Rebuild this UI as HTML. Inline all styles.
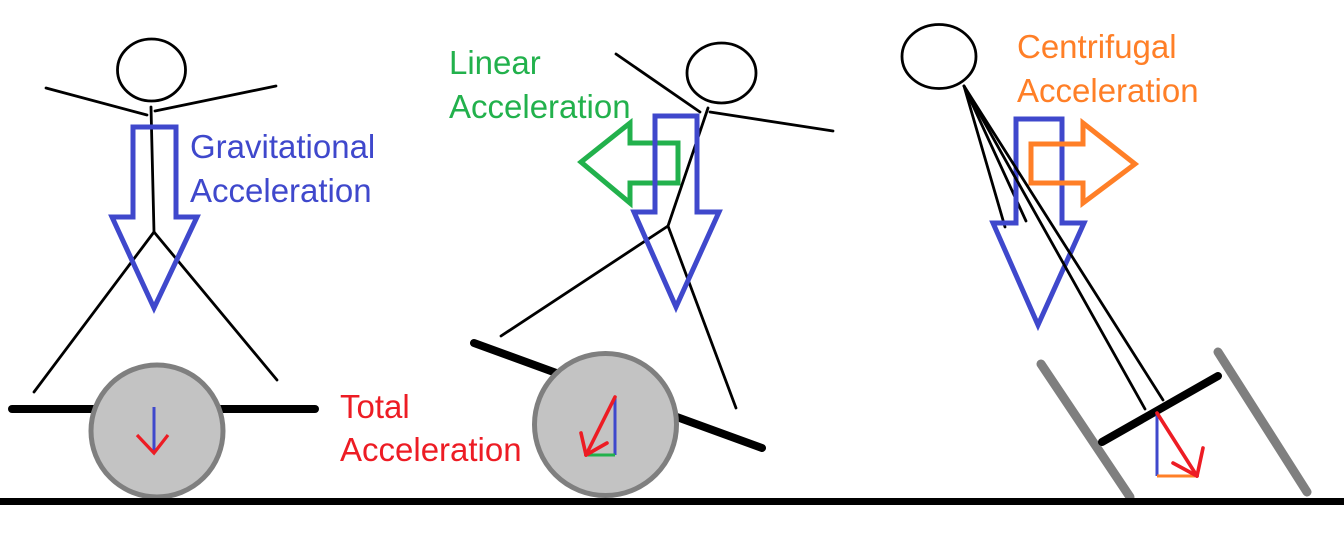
<!DOCTYPE html>
<html>
<head>
<meta charset="utf-8">
<style>
  html,body{margin:0;padding:0;background:#fff;}
  body{width:1344px;height:543px;overflow:hidden;}
  svg{display:block;}
  text{font-family:"Liberation Sans",sans-serif;font-size:33px;}
</style>
</head>
<body>
<svg width="1344" height="543" viewBox="0 0 1344 543" xmlns="http://www.w3.org/2000/svg">
  <rect x="0" y="0" width="1344" height="543" fill="#fff"/>

  <!-- ===== Figure 1 ===== -->
  <g stroke="#000" stroke-width="2.8" fill="none" stroke-linecap="round">
    <ellipse cx="151.5" cy="70" rx="34" ry="31"/>
    <line x1="46" y1="88" x2="147" y2="115"/>
    <line x1="155" y1="111" x2="276" y2="86"/>
    <line x1="151" y1="107" x2="154" y2="232"/>
    <line x1="154" y1="232" x2="34" y2="392"/>
    <line x1="154" y1="232" x2="277" y2="380"/>
  </g>
  <polygon points="133,127 176,127 176,217 197,217 154,308 112,217 133,217" fill="none" stroke="#3F48CC" stroke-width="5" stroke-linejoin="miter"/>
  <line x1="12" y1="409" x2="315" y2="409" stroke="#000" stroke-width="8" stroke-linecap="round"/>
  <circle cx="157" cy="431" r="66" fill="#C3C3C3" stroke="#7F7F7F" stroke-width="5"/>
  <line x1="154" y1="407" x2="154" y2="452" stroke="#3F48CC" stroke-width="3"/>
  <polyline points="137,435 154,453 168,435" fill="none" stroke="#ED1C24" stroke-width="3.2"/>

  <text x="190" y="158" fill="#3F48CC">Gravitational</text>
  <text x="190" y="202" fill="#3F48CC">Acceleration</text>
  <text x="340" y="418" fill="#ED1C24">Total</text>
  <text x="340" y="461" fill="#ED1C24">Acceleration</text>

  <!-- ===== Figure 2 ===== -->
  <g stroke="#000" stroke-width="2.8" fill="none" stroke-linecap="round">
    <ellipse cx="721.5" cy="73" rx="34.5" ry="30"/>
    <line x1="616" y1="54" x2="700" y2="112"/>
    <line x1="710" y1="112" x2="833" y2="131"/>
    <line x1="708" y1="108" x2="668" y2="226"/>
    <line x1="668" y1="226" x2="501" y2="336"/>
    <line x1="668" y1="226" x2="736" y2="408"/>
  </g>
  <polygon points="678,143 678,183 630,183 630,203 581,162 630,123 630,143" fill="none" stroke="#22B14C" stroke-width="5" stroke-linejoin="miter"/>
  <polygon points="655,116 697,116 697,212 719,212 676,307 634,212 655,212" fill="none" stroke="#3F48CC" stroke-width="5" stroke-linejoin="miter"/>
  <line x1="474" y1="343" x2="762" y2="448" stroke="#000" stroke-width="8" stroke-linecap="round"/>
  <circle cx="605.5" cy="424.5" r="71" fill="#C3C3C3" stroke="#7F7F7F" stroke-width="5"/>
  <line x1="615" y1="397" x2="615" y2="455" stroke="#3F48CC" stroke-width="3"/>
  <line x1="586" y1="455" x2="615" y2="455" stroke="#22B14C" stroke-width="3"/>
  <g stroke="#ED1C24" stroke-width="3.6" fill="none" stroke-linecap="round">
    <line x1="615" y1="397" x2="586" y2="455"/>
    <line x1="581" y1="433" x2="586" y2="455"/>
    <line x1="607" y1="443" x2="586" y2="455"/>
  </g>

  <text x="449" y="74" fill="#22B14C">Linear</text>
  <text x="449" y="118" fill="#22B14C">Acceleration</text>

  <!-- ===== Figure 3 ===== -->
  <g stroke="#000" stroke-width="2.8" fill="none" stroke-linecap="round">
    <ellipse cx="939" cy="56.5" rx="37" ry="32"/>
    <line x1="964" y1="86" x2="1005" y2="227"/>
    <line x1="964" y1="86" x2="1026" y2="221"/>
  </g>
  <polygon points="1016,119 1062,119 1062,223 1084,223 1038,325 993,223 1016,223" fill="none" stroke="#3F48CC" stroke-width="5" stroke-linejoin="miter"/>
  <polygon points="1031,144 1083,144 1083,123 1135,164 1083,203 1083,183 1031,183" fill="none" stroke="#FF7F27" stroke-width="5" stroke-linejoin="miter"/>
  <g stroke="#000" stroke-width="2.8" fill="none" stroke-linecap="round">
    <line x1="964" y1="86" x2="1145" y2="409"/>
    <line x1="964" y1="86" x2="1163" y2="400"/>
  </g>
  <line x1="1041" y1="364" x2="1130" y2="497" stroke="#7F7F7F" stroke-width="9" stroke-linecap="round"/>
  <line x1="1218" y1="352" x2="1307" y2="492" stroke="#7F7F7F" stroke-width="9" stroke-linecap="round"/>
  <line x1="1102" y1="442" x2="1218" y2="376" stroke="#000" stroke-width="8" stroke-linecap="round"/>
  <line x1="1157" y1="413" x2="1157" y2="476" stroke="#3F48CC" stroke-width="3"/>
  <line x1="1157" y1="476" x2="1197" y2="476" stroke="#FF7F27" stroke-width="3"/>
  <g stroke="#ED1C24" stroke-width="3.6" fill="none" stroke-linecap="round">
    <line x1="1157" y1="413" x2="1197" y2="476"/>
    <line x1="1173" y1="463" x2="1197" y2="476"/>
    <line x1="1203" y1="448" x2="1197" y2="476"/>
  </g>

  <text x="1017" y="58" fill="#FF7F27">Centrifugal</text>
  <text x="1017" y="102" fill="#FF7F27">Acceleration</text>

  <!-- ground -->
  <rect x="0" y="498" width="1344" height="7" fill="#000"/>
</svg>
</body>
</html>
